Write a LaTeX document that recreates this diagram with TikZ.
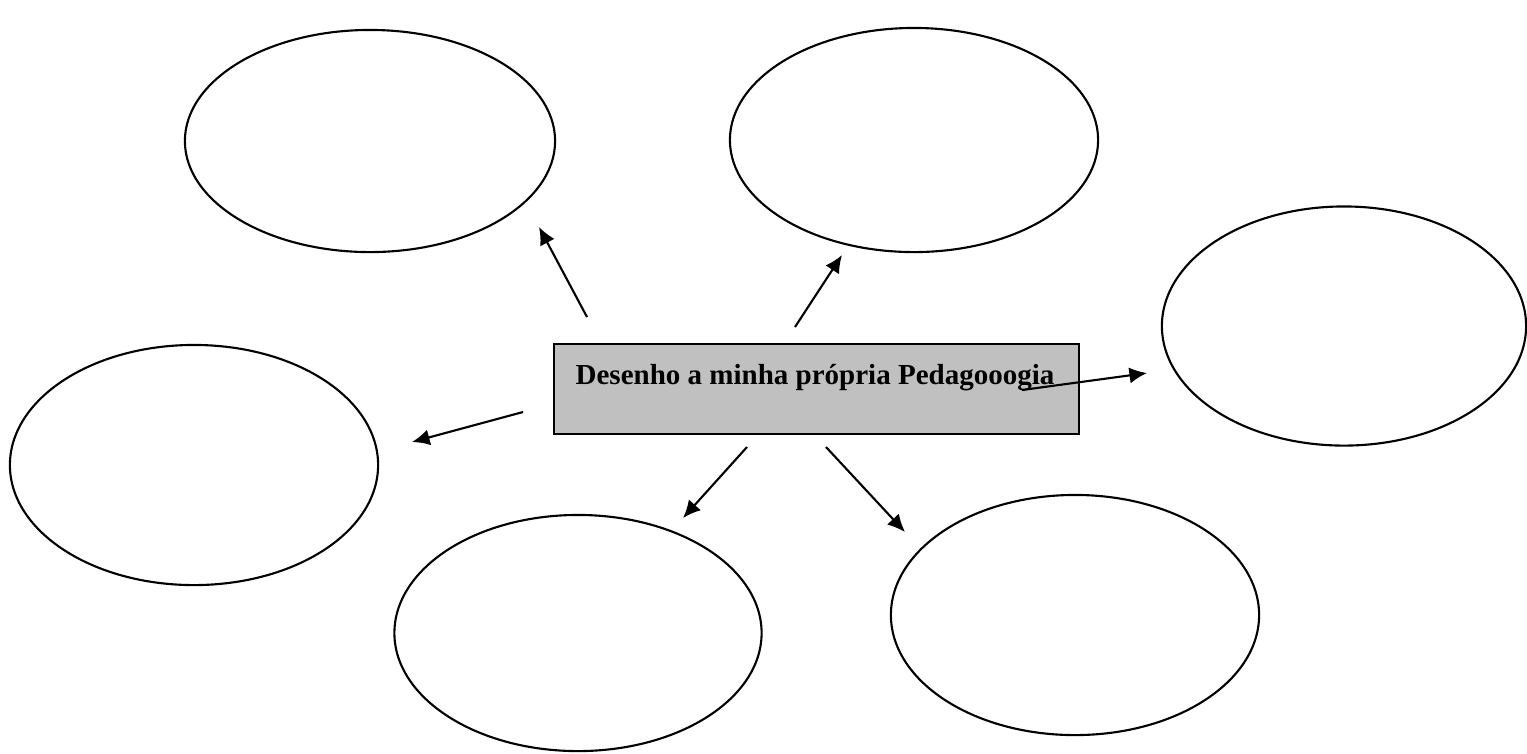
\documentclass[tikz,border=0pt]{standalone}
\usepackage{fontspec}
\setmainfont{Liberation Serif}
\usetikzlibrary{shapes.geometric,arrows.meta}
\definecolor{boxgray}{HTML}{C0C0C0}
\begin{document}
\begin{tikzpicture}[x=0.01cm,y=-0.01cm,
  bubble/.style={draw,ellipse,line width=0.6pt,inner sep=0pt},
  centerbox/.style={draw,fill=boxgray,line width=0.7pt,minimum width=5.25cm,minimum height=0.9cm,inner sep=0pt},
  conn/.style={line width=0.6pt,-{Latex[length=5pt,width=4.6pt]}}]
\useasboundingbox (0,0) rectangle (1527,753);
\node[bubble,minimum width=3.70cm,minimum height=2.22cm] (e1) at (370,141) {};
\node[bubble,minimum width=3.68cm,minimum height=2.24cm] (e2) at (914,140) {};
\node[bubble,minimum width=3.64cm,minimum height=2.39cm] (e3) at (1344,326) {};
\node[bubble,minimum width=3.68cm,minimum height=2.40cm] (e4) at (194,465) {};
\node[bubble,minimum width=3.67cm,minimum height=2.36cm] (e5) at (578,633) {};
\node[bubble,minimum width=3.68cm,minimum height=2.40cm] (e6) at (1075,615) {};
\node[centerbox] (box) at (816.5,389) {};
\node[anchor=base,inner sep=0pt,font=\bfseries\fontsize{8.25pt}{10pt}\selectfont] (title) at (815,384) {Desenho a minha própria Pedagooogia};
\coordinate (s1) at (587,317); \coordinate (t1) at (539,227);
\coordinate (s2) at (795,327); \coordinate (t2) at (842,255);
\coordinate (s3) at (1022,390); \coordinate (t3) at (1147,373);
\coordinate (s4) at (523,412); \coordinate (t4) at (412,442);
\coordinate (s5) at (747,447); \coordinate (t5) at (683,518);
\coordinate (s6) at (826,447); \coordinate (t6) at (905,532);
\draw[conn] (s1) -- (t1);
\draw[conn] (s2) -- (t2);
\draw[conn] (s3) -- (t3);
\draw[conn] (s4) -- (t4);
\draw[conn] (s5) -- (t5);
\draw[conn] (s6) -- (t6);
\end{tikzpicture}
\end{document}
